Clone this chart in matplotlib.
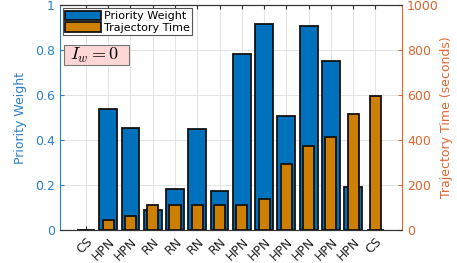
import numpy as np
import matplotlib.pyplot as plt
from matplotlib.patches import Rectangle

# categories along x
labels = ["CS", "HPN", "HPN", "RN", "RN", "RN", "RN",
          "HPN", "HPN", "HPN", "HPN", "HPN", "HPN", "CS"]
# priority weight (left axis)
weight = [0.002, 0.54, 0.453, 0.09, 0.182, 0.45, 0.172,
          0.782, 0.916, 0.505, 0.907, 0.751, 0.19, 0.0]
# trajectory time in seconds (right axis)
traj_time = [0, 47, 63, 113, 113, 113, 113,
             113, 137, 293, 372, 415, 517, 596]

blue = "#0072BD"
orange = "#CC7F00"
axblue = "#2A80C8"
axorange = "#E0652F"

plt.rcParams["mathtext.fontset"] = "cm"

fig = plt.figure(figsize=(4.57, 2.63), dpi=100)
ax = fig.add_axes([0.131, 0.125, 0.749, 0.856])
ax2 = ax.twinx()

x = np.arange(len(labels))
ax.bar(x, weight, width=0.8, color=blue, edgecolor="#111111", linewidth=1.3,
       label="Priority Weight", zorder=2)
ax2.bar(x, traj_time, width=0.5, color=orange, edgecolor="#111111", linewidth=1.3,
        label="Trajectory Time", zorder=3)

ax.set_xlim(-1.17, 14.2)
ax.set_ylim(0, 1)
ax2.set_ylim(0, 1000)
ax.set_yticks([0, 0.2, 0.4, 0.6, 0.8, 1])
ax.set_yticklabels(["0", "0.2", "0.4", "0.6", "0.8", "1"])
ax2.set_yticks([0, 200, 400, 600, 800, 1000])
ax.set_xticks(x)
ax.set_xticklabels(labels, rotation=45, ha="right", rotation_mode="anchor", fontsize=9)

ax.grid(True, color="#E3E3E3", linewidth=0.7, zorder=0)
ax.set_axisbelow(True)

ax.set_ylabel("Priority Weight", color=axblue, fontsize=9, labelpad=6)
ax2.set_ylabel("Trajectory Time (seconds)", color=axorange, fontsize=9, labelpad=1)
ax.tick_params(axis="y", colors=axblue, labelsize=9, direction="in", length=3)
ax.tick_params(axis="x", colors="#333333", labelsize=9, direction="in", length=3, top=True)
ax2.tick_params(axis="y", colors=axorange, labelsize=9, direction="in", length=3)
ax.tick_params(axis="x", labelcolor="#222222")

ax.spines["left"].set_color(axblue)
ax2.spines["left"].set_visible(False)
ax2.spines["right"].set_color(axorange)
ax.spines["right"].set_visible(False)
for a in (ax, ax2):
    a.spines["top"].set_color("#333333")
    a.spines["bottom"].set_color("#333333")
    a.spines["top"].set_linewidth(0.8)

h1, l1 = ax.get_legend_handles_labels()
h2, l2 = ax2.get_legend_handles_labels()
leg = ax2.legend(h1 + h2, l1 + l2, loc="upper left", fontsize=8, fancybox=False,
                 edgecolor="#555555", framealpha=1, borderpad=0.2, handlelength=3.2,
                 handleheight=1.0, handletextpad=0.3, labelspacing=0.1,
                 borderaxespad=0.3)
leg.get_frame().set_linewidth(0.8)

# annotation box
ax2.add_patch(Rectangle((0.012, 0.733), 0.19, 0.089, transform=ax.transAxes,
                        facecolor="#FFD6D6", edgecolor="#777777", linewidth=0.8,
                        zorder=5))
ax2.text(0.03, 0.776, r"$I_w = 0$", transform=ax.transAxes, fontsize=13,
         va="center", ha="left", zorder=6)

fig.savefig("out.png", dpi=100)
